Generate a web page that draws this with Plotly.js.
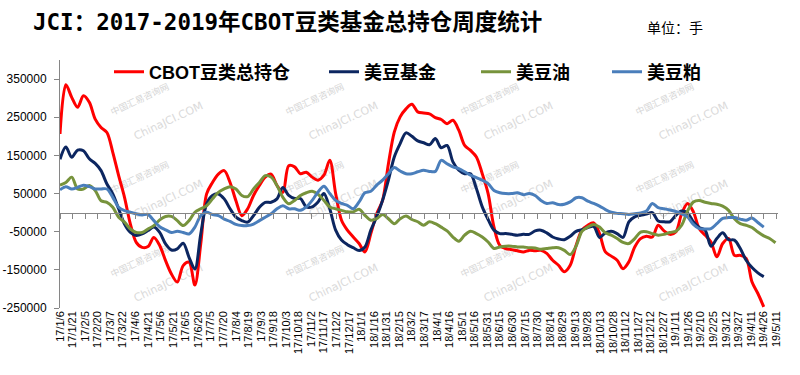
<!DOCTYPE html>
<html>
<head>
<meta charset="utf-8">
<script src="https://cdn.plot.ly/plotly-3.0.1.min.js"></script>
<style>html,body{margin:0;padding:0;background:#fff;}#chart{width:800px;height:375px;}</style>
</head>
<body>
<div id="chart"></div>
<script>
// ---- data (weekly, starting 2017-01-06) ----
const startDate = '2017-01-06';
const seriesNames = ['CBOT豆类总持仓', '美豆基金', '美豆油', '美豆粕'];

const totalCBOT = [206000, 335000, 302000, 276000, 306000, 289000, 245000, 223000, 210000, 158000,
  97000, 40000, -30000, -78000, -91000, -89000, -65000, -86000, -126000, -161000,
  -182000, -139000, -130000, -190000, -82000, 49000, 79000, 101000, 110000, 79000,
  31000, -8000, 10000, 45000, 71000, 93000, 101000, 71000, 53000, 123000,
  120000, 102000, 106000, 93000, 85000, 98000, 137000, 50000, -20000, -46000,
  -64000, -81000, -103000, -55000, -3000, 32000, 128000, 211000, 251000, 272000,
  284000, 264000, 261000, 259000, 249000, 244000, 233000, 242000, 216000, 176000,
  163000, 146000, 102000, 50000, -38000, -86000, -94000, -97000, -100000, -103000,
  -99000, -100000, -99000, -107000, -125000, -138000, -155000, -138000, -86000, -46000,
  -33000, -27000, -55000, -103000, -114000, -125000, -147000, -129000, -90000, -68000,
  -62000, -64000, -33000, -48000, -57000, -51000, -3000, 24000, 2000, -42000,
  -59000, -77000, -116000, -81000, -68000, -112000, -112000, -120000, -182000, -212000,
  -247000];

const soyFund = [140000, 172000, 145000, 164000, 162000, 141000, 129000, 110000, 75000, 49000,
  10000, -30000, -52000, -60000, -56000, -47000, -38000, -52000, -82000, -98000,
  -95000, -80000, -117000, -148000, -56000, 23000, 45000, 49000, 36000, 10000,
  -12000, -21000, -25000, -8000, 14000, 27000, 27000, 36000, 66000, 45000,
  37000, 37000, 15000, 15000, 28000, 50000, 10000, -46000, -72000, -84000,
  -92000, -99000, -90000, -46000, -11000, 32000, 85000, 146000, 181000, 209000,
  200000, 188000, 183000, 178000, 194000, 170000, 176000, 133000, 111000, 102000,
  102000, 63000, 15000, -18000, -46000, -55000, -55000, -57000, -59000, -57000,
  -57000, -48000, -46000, -53000, -64000, -69000, -71000, -62000, -49000, -45000,
  -39000, -36000, -65000, -53000, -49000, -55000, -65000, -24000, -11000, -7000,
  -4000, 0, -22000, -24000, -24000, -7000, 4000, -1000, -24000, -39000,
  -46000, -88000, -68000, -53000, -71000, -72000, -94000, -125000, -144000, -158000,
  -168000];

const soyOil = [72000, 79000, 93000, 62000, 62000, 71000, 58000, 31000, 27000, 14000,
  -12000, -25000, -43000, -52000, -52000, -43000, -34000, -19000, -10000, -10000,
  -21000, -34000, -21000, 1000, 10000, 18000, 36000, 53000, 62000, 68000,
  62000, 45000, 42000, 62000, 79000, 97000, 93000, 71000, 40000, 23000,
  32000, 45000, 52000, 56000, 48000, 32000, 15000, 10000, 6000, 2000,
  2000, 9000, -7000, -20000, -16000, -5000, -16000, -29000, -16000, -9000,
  -18000, -24000, -33000, -24000, -29000, -38000, -48000, -64000, -75000, -59000,
  -49000, -55000, -64000, -77000, -94000, -90000, -88000, -88000, -90000, -90000,
  -92000, -93000, -96000, -94000, -92000, -92000, -99000, -110000, -88000, -49000,
  -38000, -31000, -38000, -53000, -59000, -68000, -78000, -81000, -68000, -51000,
  -50000, -55000, -59000, -57000, -52000, -49000, -33000, 4000, 28000, 32000,
  27000, 24000, 22000, 17000, 6000, -16000, -29000, -33000, -39000, -51000,
  -61000, -68000, -79000];

const soyMeal = [60000, 68000, 62000, 66000, 72000, 68000, 62000, 62000, 62000, 40000,
  14000, 5000, 1000, -3000, -6000, -5000, -21000, -37000, -45000, -52000,
  -49000, -52000, -56000, -38000, -8000, 1000, -5000, -8000, -17000, -23000,
  -31000, -34000, -34000, -30000, -21000, -12000, -3000, 10000, 18000, 10000,
  10000, 6000, 15000, 32000, 54000, 69000, 50000, 32000, 24000, 19000,
  10000, 28000, 52000, 56000, 72000, 85000, 102000, 118000, 109000, 102000,
  102000, 107000, 111000, 108000, 108000, 137000, 128000, 120000, 115000, 107000,
  98000, 92000, 85000, 76000, 58000, 52000, 50000, 50000, 52000, 47000,
  50000, 45000, 32000, 24000, 26000, 21000, 22000, 28000, 39000, 39000,
  30000, 24000, 17000, 8000, 1000, -2000, -3000, -5000, -3000, -1000,
  4000, 24000, 13000, 10000, 7000, 3000, -3000, -11000, -31000, -42000,
  -43000, -42000, -29000, -15000, -13000, -13000, -17000, -20000, -14000, -26000,
  -38000];

const tickLabels = ['17/1/6','17/1/21','17/2/5','17/2/20','17/3/7','17/3/22','17/4/6','17/4/21','17/5/6','17/5/21',
  '17/6/5','17/6/20','17/7/5','17/7/20','17/8/4','17/8/19','17/9/3','17/9/18','17/10/3','17/10/18',
  '17/11/2','17/11/17','17/12/2','17/12/17','18/1/1','18/1/16','18/1/31','18/2/15','18/3/2','18/3/17',
  '18/4/1','18/4/16','18/5/1','18/5/16','18/5/31','18/6/15','18/6/30','18/7/15','18/7/30','18/8/14',
  '18/8/29','18/9/13','18/9/28','18/10/13','18/10/28','18/11/12','18/11/27','18/12/12','18/12/27','19/1/11',
  '19/1/26','19/2/10','19/2/25','19/3/12','19/3/27','19/4/11','19/4/26','19/5/11'];
const yTicks = [-250000, -150000, -50000, 50000, 150000, 250000, 350000];

// ---- helpers ----
function weekDates(n) {
  const t0 = Date.parse(startDate + 'T00:00:00Z');
  const out = [];
  for (let i = 0; i < n; i++) out.push(new Date(t0 + i * 7 * 86400000).toISOString().slice(0, 10));
  return out;
}
function labelToDate(s) {
  const p = s.split('/');
  return '20' + p[0] + '-' + p[1].padStart(2, '0') + '-' + p[2].padStart(2, '0');
}
const tickDates = tickLabels.map(labelToDate);

const colors = ['#FF0000', '#0C2660', '#77933C', '#4A7EBB'];
const allSeries = [totalCBOT, soyFund, soyOil, soyMeal];
const legendIds = ['legend', 'legend2', 'legend3', 'legend4'];

const traces = allSeries.map((vals, k) => ({
  type: 'scatter', mode: 'lines',
  x: weekDates(vals.length), y: vals,
  name: seriesNames[k],
  legend: legendIds[k],
  line: {color: colors[k], width: 3, shape: 'spline', smoothing: 0.9},
  hoverinfo: 'x+y+name'
}));
// helper trace so the zero-line axis is drawn
traces.push({type: 'scatter', mode: 'lines', x: [startDate], y: [null], xaxis: 'x2', showlegend: false, hoverinfo: 'skip'});

const W = 800, H = 375;
const M = {l: 60, r: 22, t: 60, b: 67, autoexpand: false};
const xRange = ['2017-01-06', '2019-05-13'];
const yRange = [-250000, 400000];

const legendFont = {family: 'Liberation Sans, Noto Sans CJK SC, sans-serif', size: 18, color: '#000', weight: 'bold'};
const legendX = [109, 324, 476, 607];
const legends = {};
legendIds.forEach((id, k) => {
  legends[id] = {
    orientation: 'h', xref: 'container', yref: 'container',
    x: legendX[k] / W, y: 1 - 72 / H, xanchor: 'left', yanchor: 'middle',
    font: legendFont, bgcolor: 'rgba(0,0,0,0)', borderwidth: 0, itemwidth: 30
  };
});

// faint watermark (below the lines)
const wmCols = [140, 315, 490, 665];
const wmRows = [100, 178, 262];
const shapes = [];
function px2paper(px, py) { return [(px - M.l) / (W - M.l - M.r), (H - M.b - py) / (H - M.t - M.b)]; }
wmRows.forEach(py => wmCols.forEach(pxx => {
  const a = px2paper(pxx, py), b = px2paper(pxx + 28, py + 20);
  shapes.push({type: 'rect', xref: 'paper', yref: 'paper', x0: a[0] - 0.01, x1: a[0] + 0.01, y0: a[1] - 0.01, y1: a[1] + 0.01,
    line: {width: 0}, layer: 'below',
    label: {text: '中国汇易咨询网', textangle: -25, font: {size: 9, color: '#d6d6d6', family: 'Noto Sans CJK SC'}}});
  shapes.push({type: 'rect', xref: 'paper', yref: 'paper', x0: b[0] - 0.01, x1: b[0] + 0.01, y0: b[1] - 0.01, y1: b[1] + 0.01,
    line: {width: 0}, layer: 'below',
    label: {text: 'ChinaJCI.COM', textangle: -25, font: {size: 11, color: '#dadada', family: 'DejaVu Sans'}}});
}));

const unitPos = px2paper(645, 27);

const layout = Object.assign({
  width: W, height: H,
  margin: M,
  paper_bgcolor: '#fff', plot_bgcolor: 'rgba(0,0,0,0)',
  showlegend: true,
  title: {
    text: 'JCI：2017-2019年CBOT豆类基金总持仓周度统计',
    xref: 'container', yref: 'container', x: 33 / W, y: 1 - 22 / H, xanchor: 'left', yanchor: 'middle',
    font: {family: 'DejaVu Sans Mono, Noto Sans CJK SC, monospace', size: 22.5, color: '#000', weight: 'bold'}
  },
  xaxis: {
    type: 'date', range: xRange, tickmode: 'array', tickvals: tickDates, ticktext: tickLabels,
    tickangle: -90, ticks: '', showline: false, showgrid: false, zeroline: false,
    tickfont: {family: 'Liberation Sans, Arial, sans-serif', size: 11, color: '#000'}
  },
  xaxis2: {
    type: 'date', range: xRange, overlaying: 'x', anchor: 'free', position: 250000 / 650000, side: 'bottom',
    tickmode: 'array', tickvals: tickDates, showticklabels: false,
    ticks: 'outside', ticklen: 5, tickcolor: '#868686', tickwidth: 1,
    showline: true, linecolor: '#868686', linewidth: 1, showgrid: false, zeroline: false
  },
  yaxis: {
    range: yRange, tickmode: 'array', tickvals: yTicks, ticktext: yTicks.map(String),
    showline: true, linecolor: '#868686', linewidth: 1, ticks: 'outside', ticklen: 5, tickcolor: '#868686',
    ticklabelstandoff: 5,
    showgrid: false, zeroline: false,
    tickfont: {family: 'Liberation Sans, Arial, sans-serif', size: 12, color: '#000'}
  },
  shapes: shapes,
  annotations: [{
    text: '单位：手', xref: 'paper', yref: 'paper', showarrow: false,
    x: unitPos[0], y: unitPos[1], xanchor: 'left', yanchor: 'middle',
    font: {family: 'Noto Sans CJK SC, sans-serif', size: 14, color: '#000'}
  }]
}, legends);

Plotly.newPlot('chart', traces, layout, {displayModeBar: false, staticPlot: true});
</script>
</body>
</html>
